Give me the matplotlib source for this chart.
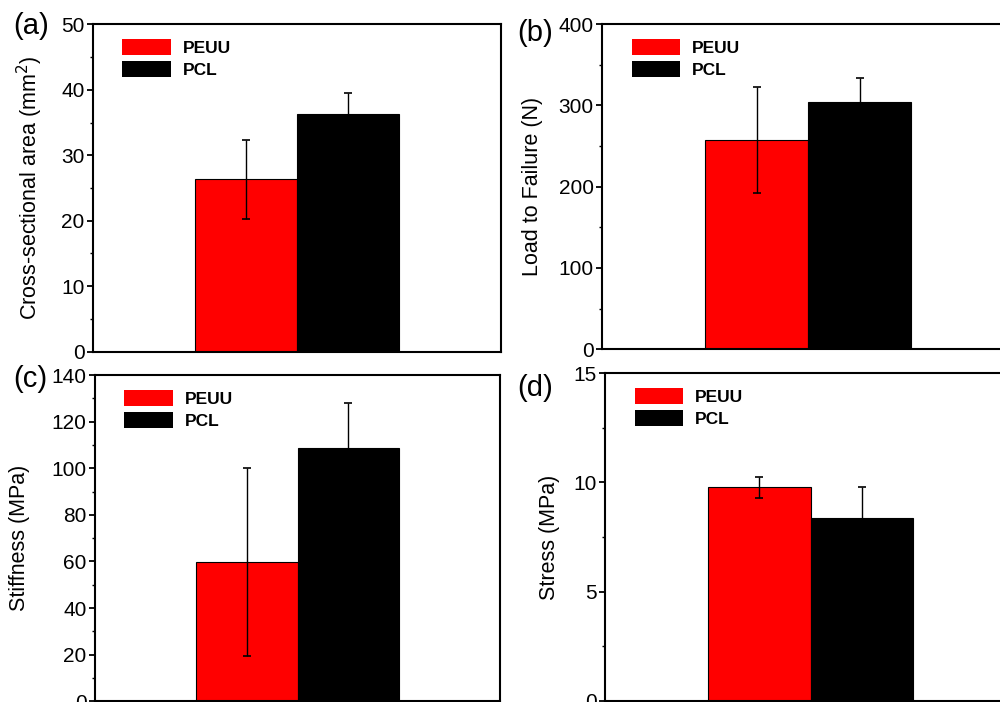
import matplotlib
matplotlib.use("Agg")
import matplotlib.pyplot as plt
from matplotlib.ticker import MultipleLocator, AutoMinorLocator

plt.rcParams['font.family'] = ['Liberation Sans', 'DejaVu Sans']

# ----------------------------
# Data (mean, sd)
# ----------------------------
groups = ["PEUU", "PCL"]
colors = ["#ff0000", "#000000"]

area_mean = [26.3, 36.3]
area_sd = [6.05, 3.25]

load_mean = [257, 304]
load_sd = [65, 29]

stiff_mean = [59.8, 108.8]
stiff_sd = [40.2, 19.0]

stress_mean = [9.78, 8.36]
stress_sd = [0.48, 1.45]

panels = [
    # letter, mean, sd, ylabel, ymax, major step
    ("(a)", area_mean, area_sd, "Cross-sectional area (mm$^2$)", 50, 10),
    ("(b)", load_mean, load_sd, "Load to Failure (N)", 400, 100),
    ("(c)", stiff_mean, stiff_sd, "Stiffness (MPa)", 140, 20),
    ("(d)", stress_mean, stress_sd, "Stress (MPa)", 15, 5),
]

# axes rectangles in figure fraction (panels are cropped on the right)
rects = [
    [0.093, 0.499, 0.408, 0.4664],
    [0.602, 0.5024, 0.412, 0.4634],
    [0.095, 0.001, 0.405, 0.4648],
    [0.605, 0.002, 0.411, 0.4662],
]
label_x = [-0.154, -0.1675, -0.186, -0.134]
letter_pos = [(31, 26), (535, 33), (30, 379), (535, 388)]

fig = plt.figure(figsize=(10, 7.02), dpi=100)

for (letter, mean, sd, ylab, ymax, step), rect, lx, lp in zip(panels, rects, label_x, letter_pos):
    ax = fig.add_axes(rect)
    xs = [1, 2]
    for x, m, s, c, g in zip(xs, mean, sd, colors, groups):
        ax.bar(x, m, width=1.0, color=c, edgecolor="black", linewidth=0.8, label=g, zorder=2)
        ax.errorbar(x, m, yerr=s, fmt="none", ecolor="black", elinewidth=1.0,
                    capsize=3, capthick=1.2, zorder=3)
    ax.set_xlim(-0.5, 3.5)
    ax.set_ylim(0, ymax)
    ax.yaxis.set_major_locator(MultipleLocator(step))
    ax.yaxis.set_minor_locator(AutoMinorLocator(2))
    ax.set_xticks([])
    ax.tick_params(axis="y", which="major", direction="out", length=4, width=1.3,
                   labelsize=15, pad=2)
    ax.tick_params(axis="y", which="minor", direction="out", length=2.5, width=1.0)
    for sp in ax.spines.values():
        sp.set_linewidth(1.5)
    ax.set_ylabel(ylab, fontsize=15.5, va="center")
    ax.yaxis.set_label_coords(lx, 0.5)

    leg = ax.legend(loc="upper left", bbox_to_anchor=(0.055, 0.975), frameon=False,
                    prop={"weight": "bold", "size": 12.5}, handlelength=2.8,
                    handleheight=1.0, handletextpad=0.7, labelspacing=0.3,
                    borderaxespad=0)
    for h in leg.legend_handles:
        h.set_linewidth(0)

    fig.text(lp[0] / 1000, 1 - lp[1] / 702, letter, fontsize=21,
             ha="center", va="center")

fig.savefig("out.png", dpi=100)
